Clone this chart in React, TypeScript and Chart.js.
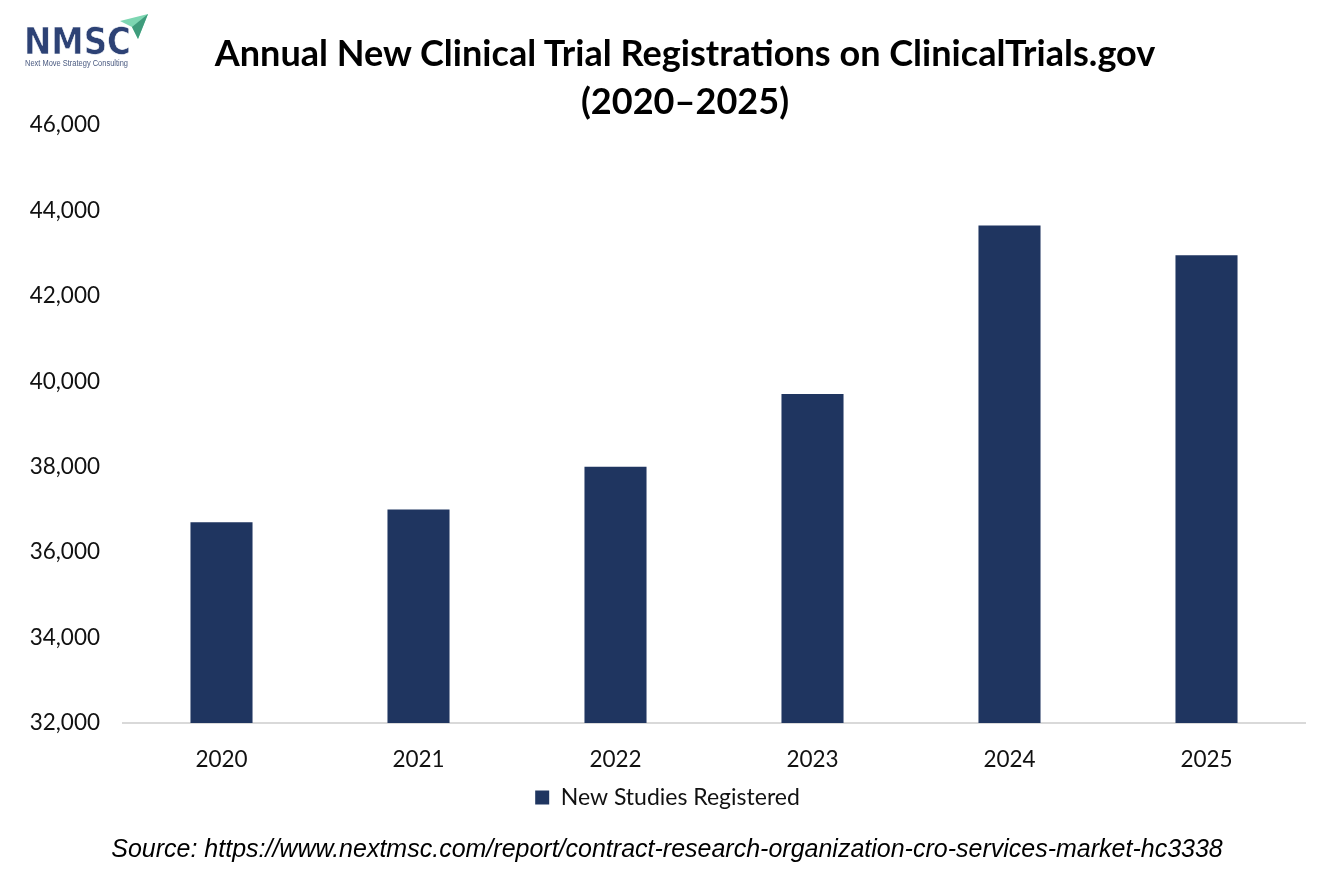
import React, { useEffect, useRef } from "react";
import { Chart, registerables } from "chart.js";

Chart.register(...registerables);

const years = ["2020", "2021", "2022", "2023", "2024", "2025"];
const studiesRegistered = [36700, 37000, 38000, 39700, 43650, 42950];
const seriesLabel = "New Studies Registered";
const yMin = 32000;
const yMax = 46000;
const yStep = 2000;
const titleLines = ["Annual New Clinical Trial Registrations on ClinicalTrials.gov", "(2020\u20132025)"];
const sourceText = "Source: https://www.nextmsc.com/report/contract-research-organization-cro-services-market-hc3338";

const NAVY = "#1F3560";
const FONT = "Lato, Carlito, Calibri, 'Open Sans', sans-serif";

function Logo() {
  return (
    <svg width="170" height="75" style={{ position: "absolute", left: 0, top: 0 }}>
      <polygon points="120,21 148,14 138,39 132,27" fill="#7dd6b2" />
      <polygon points="132,27 138,39 148,14" fill="#3f9c7c" />
      <text
        x="24"
        y="54"
        fontFamily="'DejaVu Sans', sans-serif"
        fontWeight="bold"
        fontSize="37"
        fill="#2d4275"
        stroke="#ffffff"
        strokeWidth="0.6"
        textLength="107"
        lengthAdjust="spacingAndGlyphs"
      >
        NMSC
      </text>
      <text
        x="25"
        y="66"
        fontFamily="'Liberation Sans', sans-serif"
        fontSize="8.5"
        fill="#4a5a80"
        textLength="103"
        lengthAdjust="spacingAndGlyphs"
      >
        Next Move Strategy Consulting
      </text>
    </svg>
  );
}

export default function App() {
  const ref = useRef<HTMLCanvasElement | null>(null);

  useEffect(() => {
    if (!ref.current) return;
    const chart = new Chart(ref.current, {
      type: "bar",
      data: {
        labels: years,
        datasets: [
          {
            label: seriesLabel,
            data: studiesRegistered,
            backgroundColor: NAVY,
            borderWidth: 0,
            barPercentage: 0.63,
            categoryPercentage: 0.5,
          },
        ],
      },
      options: {
        responsive: false,
        animation: false,
        layout: { padding: { top: 125, left: 30, right: 29, bottom: 70 } },
        plugins: {
          title: { display: false },
          tooltip: { enabled: false },
          legend: {
            display: true,
            position: "bottom",
            labels: {
              boxWidth: 14,
              boxHeight: 14,
              padding: 10,
              color: "#111",
              font: { family: FONT, size: 23 },
            },
          },
        },
        scales: {
          x: {
            grid: { display: false, drawTicks: false },
            border: { display: true, color: "#d9d9d9", width: 2 },
            ticks: { color: "#111", padding: 23, font: { family: FONT, size: 22.5 } },
            afterFit: (axis: any) => {
              axis.height = 53;
            },
          },
          y: {
            min: yMin,
            max: yMax,
            grid: { display: false, drawTicks: false },
            border: { display: false },
            ticks: {
              stepSize: yStep,
              color: "#111",
              padding: 23,
              font: { family: FONT, size: 22.5 },
              callback: (v: any) => Number(v).toLocaleString("en-US"),
            },
            afterFit: (axis: any) => {
              axis.width = 93;
            },
          },
        },
      },
    });
    return () => chart.destroy();
  }, []);

  return (
    <div style={{ position: "absolute", left: 0, top: 0, width: 1334, height: 889, background: "#fff", overflow: "hidden" }}>
      <canvas ref={ref} width={1334} height={889} style={{ position: "absolute", left: 0, top: 0 }} />
      <Logo />
      <div
        style={{
          position: "absolute",
          left: 135,
          width: 1100,
          top: 28,
          textAlign: "center",
          fontFamily: FONT,
          fontWeight: "bold",
          fontSize: 37,
          lineHeight: "48px",
          color: "#000",
          transform: "scaleX(0.975)",
        }}
      >
        <div style={{ whiteSpace: "nowrap" }}>{titleLines[0]}</div>
        <div>{titleLines[1]}</div>
      </div>
      <div
        style={{
          position: "absolute",
          left: 0,
          width: 1334,
          top: 834,
          textAlign: "center",
          fontFamily: "'Liberation Sans', Arial, sans-serif",
          fontStyle: "italic",
          fontSize: 25,
          lineHeight: "28px",
          color: "#000",
          whiteSpace: "nowrap",
        }}
      >
        {sourceText}
      </div>
    </div>
  );
}
